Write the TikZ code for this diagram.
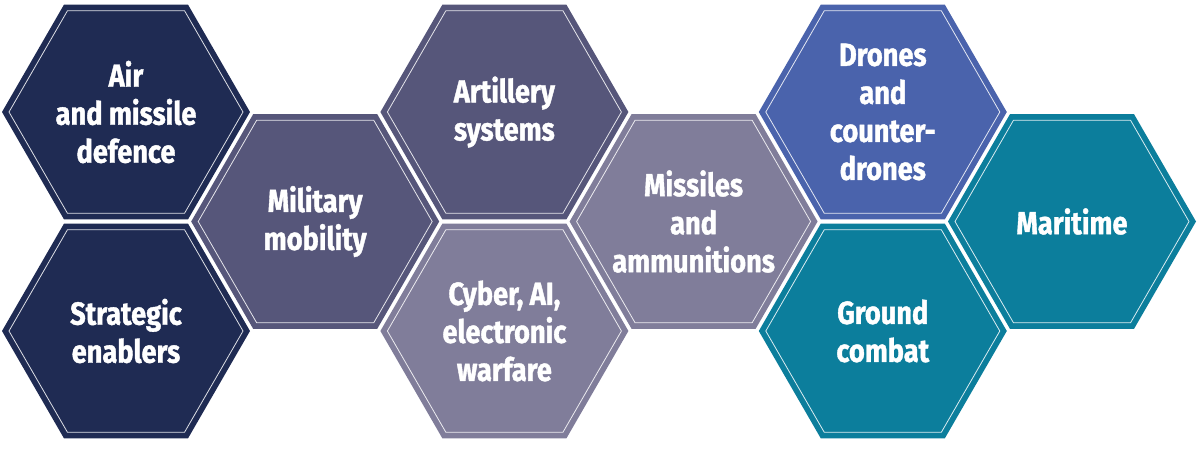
\documentclass[tikz,border=0pt]{standalone}
\usepackage{fontspec}
\newfontfamily\hexfont{Fira Sans}[FakeStretch=0.85,BoldFeatures={FakeStretch=0.85,FakeBold=1.2}]
\usetikzlibrary{shapes.geometric}
\definecolor{cnavy}{HTML}{1F2B53}
\definecolor{cslate}{HTML}{56567A}
\definecolor{clav}{HTML}{807D9A}
\definecolor{cblue}{HTML}{4A63AC}
\definecolor{cteal}{HTML}{0C7E9C}
\tikzset{
  hexbox/.style={regular polygon, regular polygon sides=6, minimum size=248pt,
    inner sep=0pt, draw=none},
  hexline/.style={regular polygon, regular polygon sides=6, minimum size=234pt,
    inner sep=0pt, draw=white, draw opacity=0.85, line width=0.8pt},
  hextext/.style={inner sep=0pt, text=white, align=center,
    font=\hexfont\bfseries\fontsize{32}{38}\selectfont}
}
\begin{document}
\begin{tikzpicture}[x=1pt,y=-1pt]
\fill[white] (0,0) rectangle (1200,451);
\useasboundingbox (0,0) rectangle (1200,451);
% column x: 126 + 189.2 i
\node[hexbox, fill=cnavy] (air) at (126,112) {};
\node[hexline] (airl) at (air.center) {};
\node[hextext] (airt) at (air.center) {Air\\and missile\\defence};
\node[hexbox, fill=cnavy] (strat) at (126,331) {};
\node[hexline] (stratl) at (strat.center) {};
\node[hextext] (stratt) at (strat.center) {Strategic\\enablers};
\node[hexbox, fill=cslate] (mil) at (315.2,221.5) {};
\node[hexline] (mill) at (mil.center) {};
\node[hextext] (milt) at (mil.center) {Military\\mobility};
\node[hexbox, fill=cslate] (art) at (504.4,112) {};
\node[hexline] (artl) at (art.center) {};
\node[hextext] (artt) at (art.center) {Artillery\\systems};
\node[hexbox, fill=clav] (cyber) at (504.4,331) {};
\node[hexline] (cyberl) at (cyber.center) {};
\node[hextext] (cybert) at (cyber.center) {Cyber, AI,\\electronic\\warfare};
\node[hexbox, fill=clav] (miss) at (693.6,221.5) {};
\node[hexline] (missl) at (miss.center) {};
\node[hextext] (misst) at (miss.center) {Missiles\\and\\ammunitions};
\node[hexbox, fill=cblue] (drones) at (882.8,112) {};
\node[hexline] (dronesl) at (drones.center) {};
\node[hextext] (dronest) at (drones.center) {Drones\\and\\counter-\\drones};
\node[hexbox, fill=cteal] (ground) at (882.8,331) {};
\node[hexline] (groundl) at (ground.center) {};
\node[hextext] (groundt) at (ground.center) {Ground\\combat};
\node[hexbox, fill=cteal] (mar) at (1072,221.5) {};
\node[hexline] (marl) at (mar.center) {};
\node[hextext] (mart) at (mar.center) {Maritime};
\end{tikzpicture}
\end{document}
